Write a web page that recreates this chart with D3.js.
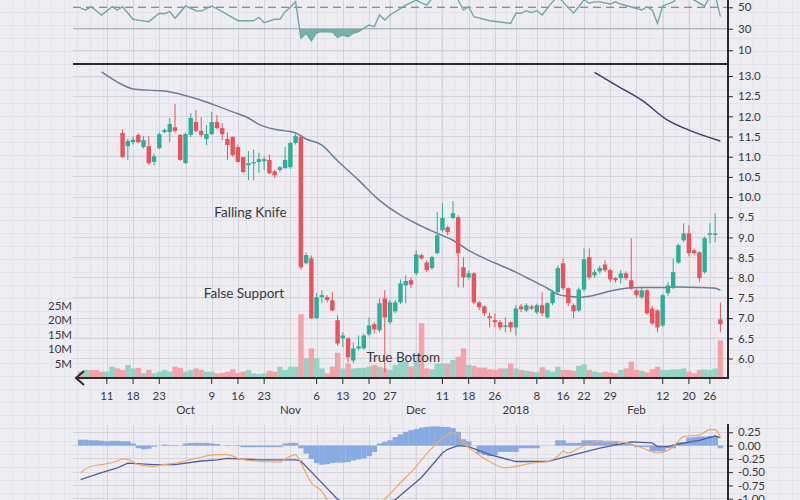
<!DOCTYPE html>
<html><head><meta charset="utf-8">
<script src="https://cdn.jsdelivr.net/npm/d3@7"></script>
<style>
html,body{margin:0;padding:0;background:#eeedf2;}
svg{display:block;font-family:Lato,"Open Sans",sans-serif;}
</style>
</head><body>
<svg id="c" width="800" height="500"></svg>
<script>
// ---------------- DATA ----------------
const startDate = "2017-09-01", endDate = "2018-02-28";
const holidays = ["2017-09-04","2017-11-23","2017-12-25","2018-01-01","2018-01-15","2018-02-19"];
const candleStart = "2017-09-14";
// [open, high, low, close]
const candles = [
[11.59,11.68,10.97,10.99],[11.26,11.44,10.92,11.39],[11.36,11.5,11.3,11.42],[11.54,11.58,11.33,11.36],
[11.24,11.51,11.2,11.41],[11.26,11.51,10.80,10.84],[10.87,11.08,10.79,11.01],[11.21,11.6,11.18,11.56],
[11.61,11.7,11.58,11.66],[11.61,11.96,11.36,11.81],[11.73,12.31,11.59,11.64],[11.54,11.56,10.9,10.92],
[10.84,11.6,10.82,11.56],[11.54,12.08,11.49,11.96],[11.86,12.16,11.61,11.64],[11.64,11.98,11.49,11.54],
[11.44,11.78,11.29,11.56],[11.56,12.11,11.54,11.86],[11.86,12.03,11.68,11.71],[11.71,11.83,11.41,11.56],
[11.44,11.61,10.92,11.29],[11.49,11.5,11.0,11.04],[11.24,11.3,10.85,10.87],[10.99,11.0,10.6,10.62],
[10.79,11.14,10.42,10.84],[10.84,11.18,10.42,10.87],[10.87,11.1,10.6,10.94],[10.89,11.0,10.67,10.94],
[10.92,11.06,10.57,10.59],[10.64,10.67,10.47,10.54],[10.67,10.77,10.62,10.74],[10.72,11.24,10.7,10.92],
[10.74,11.36,10.7,11.34],[11.34,11.61,11.3,11.51],[11.49,11.55,8.2,8.26],[8.36,8.63,8.33,8.56],
[8.48,8.55,6.98,7.0],[7.0,7.62,6.98,7.52],[7.52,7.69,7.37,7.57],[7.52,7.57,7.39,7.45],
[7.44,7.64,7.17,7.19],[6.95,7.07,6.32,6.37],[6.5,6.65,6.28,6.57],[6.5,6.52,5.9,6.03],
[5.95,6.40,5.88,6.25],[6.25,6.57,6.2,6.30],[6.25,6.62,6.22,6.57],[6.6,7.02,6.55,6.82],
[6.85,6.9,6.62,6.72],[6.70,7.49,6.65,7.37],[7.49,7.69,5.66,7.02],[6.9,7.45,6.85,7.39],
[7.17,7.45,7.12,7.39],[7.39,7.96,7.35,7.86],[7.81,8.06,7.37,7.92],[7.94,8.01,7.75,7.83],
[8.11,8.68,8.06,8.58],[8.56,8.6,8.45,8.48],[8.38,8.43,8.14,8.19],[8.24,8.55,8.2,8.51],
[8.61,9.63,8.58,9.05],[9.18,9.85,9.13,9.48],[9.25,9.3,9.05,9.13],[9.48,9.9,9.45,9.60],
[9.50,9.55,7.76,8.61],[8.26,8.51,7.76,8.01],[8.01,8.18,7.96,8.11],[8.11,8.14,7.35,7.39],
[7.39,7.42,7.2,7.27],[7.29,7.32,7.05,7.12],[7.05,7.14,6.77,7.0],[6.95,7.12,6.77,6.90],
[6.9,6.95,6.7,6.77],[6.8,7.02,6.65,6.82],[6.9,6.92,6.65,6.77],[6.77,7.32,6.57,7.24],
[7.29,7.35,7.15,7.22],[7.19,7.37,7.15,7.32],[7.29,7.33,7.2,7.24],[7.14,7.36,7.1,7.32],
[7.32,7.64,7.05,7.12],[7.02,7.4,6.98,7.37],[7.37,7.7,7.32,7.64],[7.64,8.3,7.6,8.24],
[8.36,8.48,7.7,7.74],[7.74,7.76,7.3,7.37],[7.32,7.36,7.0,7.17],[7.19,7.76,7.15,7.71],
[7.71,8.73,7.66,8.46],[8.51,8.73,7.96,8.01],[8.06,8.2,8.0,8.14],[8.16,8.3,8.1,8.24],
[8.33,8.43,8.14,8.19],[8.19,8.22,7.9,7.96],[7.99,8.02,7.88,7.94],[7.99,8.19,7.86,8.11],
[8.11,8.16,7.94,7.99],[7.94,8.98,7.7,7.74],[7.69,7.72,7.5,7.57],[7.52,7.75,7.47,7.69],
[7.69,7.72,7.08,7.12],[7.24,7.3,6.82,6.87],[7.19,7.22,6.65,6.77],[6.82,7.6,6.78,7.57],
[7.62,7.9,7.55,7.81],[7.76,8.48,7.72,8.14],[8.38,8.85,8.34,8.81],[8.93,9.35,8.88,9.10],
[9.10,9.3,8.53,8.61],[8.68,8.72,8.56,8.61],[8.63,8.66,7.9,7.99],[8.14,9.02,8.1,8.98],
[9.08,9.35,8.85,9.10],[9.08,9.60,8.88,9.10],[6.97,7.39,6.65,6.85]
];
// volume in millions, one per session
const volume = [2.2,2.8,2.8,2.8,2.2,2.2,3.9,3.3,
2.8,4.5,3.3,3.5,1.6,2.8,1.6,2.2,2.8,2.2,3.9,3.5,
2.2,2.8,3.3,2.8,2.2,2.2,1.6,1.8,2.2,3.0,
1.8,2.2,2.8,1.6,1.4,1.6,2.5,2.2,3.9,2.8,
3.9,3.9,22,6.8,10.2,6.8,3.3,1.6,3.9,8.7,
3.3,5.0,3.3,3.5,3.5,3.9,4.5,3.9,3.3,2.8,
4.5,5.6,5.6,4.0,5.6,18.9,3.3,3.0,5.0,5.0,
5.0,6.2,7.3,10.2,4.5,4.2,3.6,3.6,3.0,2.8,
3.3,3.3,5.0,3.3,2.8,2.5,2.2,2.0,3.7,2.8,
2.2,3.9,2.8,2.8,2.5,4.2,4.7,2.8,2.2,1.9,
2.2,1.9,1.6,2.8,3.3,5.6,2.8,2.5,1.9,3.0,
3.9,2.8,2.8,3.0,3.0,3.3,2.2,1.6,2.8,3.0,
2.8,3.3,13];
// direction of the sessions before the first candle
const earlyVolumeUp = [false,true,false,false,false,true,true,false];
// [session number, value]
const smaPoints = [[4,13.10],[7,12.85],[10,12.68],[13,12.65],[16,12.63],[19,12.55],[23,12.40],[26,12.26],[29,12.11],[32,11.96],[34,11.80],[37,11.68],[39,11.64],[41,11.59],[43,11.44],[46,11.29],[49,10.9],[53,10.42],[57,9.92],[61,9.55],[65,9.28],[68,9.10],[71,8.93],[74,8.68],[77,8.48],[80,8.31],[83,8.14],[86,7.94],[89,7.74],[91,7.59],[93,7.54],[95,7.52],[98,7.57],[101,7.67],[104,7.74],[107,7.76],[111,7.76],[114,7.77],[118,7.76],[121,7.74],[122,7.69]];
const longMaPoints = [[98,13.09],[102,12.78],[107,12.40],[112,11.90],[116,11.66],[122,11.39]];
const rsiPoints = [[0,49],[1,47.5],[2,50.5],[4,42.8],[6,50.5],[7,47.4],[8,50.5],[10,38.8],[11,38],[13,36.6],[15,44.4],[16,44],[17,45.9],[18,39.7],[20,51.2],[22,46.8],[23,46.5],[25,51.2],[27,45.9],[30,37.5],[33,37.5],[34,40.6],[35,35.6],[37,38.8],[38,38.8],[39,45.9],[40,50],[41,55.2],[42,21.1],[43,25.8],[44,18.9],[45,26.3],[46,27.3],[48,27],[49,22],[50,24.2],[51,22.6],[52,25.8],[53,27.3],[55,33.5],[56,31.9],[57,42.8],[58,38.1],[59,42.8],[61,49],[62,52],[64,56.7],[65,54],[66,52],[67,58],[68,63],[69,66],[70,61],[71,64],[72,56.7],[73,47.4],[74,50.5],[75,41.2],[78,37.5],[82,35],[83,44.4],[84,44.4],[85,46.8],[86,45],[87,47],[88,42.8],[90,55.2],[91,60],[92,55],[94,44.4],[96,57],[97,53.7],[98,55],[99,55],[101,53],[102,55],[103,53],[107,47.4],[108,50.5],[109,47.4],[110,35],[111,51.2],[113,55],[114,60],[115,62],[117,56.7],[119,51],[120,60],[121,62],[122,41.2]];
const macdHist = [0.11,0.11,0.10,0.10,0.09,0.08,0.09,0.09,0.08,0.08,
0.04,-0.05,-0.07,-0.06,-0.02,0.0,0.02,0.01,-0.01,0.0,
0.04,0.05,0.05,0.05,0.05,0.04,0.03,0.0,-0.01,0.0,
-0.01,-0.03,-0.03,-0.03,-0.03,-0.03,-0.03,-0.03,-0.03,0.04,
0.05,0.05,-0.05,-0.15,-0.25,-0.33,-0.36,-0.35,-0.33,-0.32,
-0.32,-0.31,-0.28,-0.26,-0.24,-0.2,-0.12,0.04,0.07,0.1,
0.16,0.21,0.26,0.29,0.31,0.34,0.35,0.36,0.36,0.35,
0.35,0.33,0.26,0.12,0.08,0.0,-0.15,-0.18,-0.2,-0.18,
-0.12,-0.12,-0.12,-0.12,-0.05,-0.05,-0.05,-0.05,0.0,0.0,
0.0,0.1,0.1,0.05,0.05,0.05,0.1,0.1,0.1,0.1,
0.07,0.07,0.07,0.03,0.03,0.03,-0.03,-0.03,-0.03,-0.11,
-0.11,-0.11,-0.05,-0.05,0.06,0.06,0.15,0.16,0.17,0.17,
0.18,0.18,-0.05];
const macdPoints = [[0,-0.51],[2,-0.39],[4,-0.36],[7,-0.29],[8,-0.25],[9,-0.26],[11,-0.36],[14,-0.39],[15,-0.37],[18,-0.33],[22,-0.24],[26,-0.17],[28,-0.17],[30,-0.24],[33,-0.29],[38,-0.31],[39,-0.25],[40,-0.2],[41,-0.17],[42,-0.33],[44,-0.70],[46,-0.86],[47,-1.01],[50,-1.25],[53,-1.3],[56,-1.15],[58,-1.0],[61,-0.70],[64,-0.39],[65,-0.27],[66,-0.15],[67,-0.05],[69,0.14],[71,0.24],[72,0.2],[73,0.05],[75,-0.11],[78,-0.3],[81,-0.42],[83,-0.39],[86,-0.33],[89,-0.3],[91,-0.2],[92,-0.11],[93,-0.14],[95,-0.05],[97,0.03],[99,0.08],[102,0.08],[105,0.03],[108,-0.08],[110,-0.14],[112,-0.09],[113,-0.02],[115,0.17],[118,0.2],[120,0.3],[121,0.3],[122,0.17]];
const signalPoints = [[0,-0.64],[4,-0.51],[7,-0.42],[9,-0.33],[14,-0.36],[18,-0.36],[23,-0.29],[26,-0.27],[28,-0.24],[34,-0.27],[41,-0.27],[42,-0.29],[49,-1.01],[53,-1.2],[57,-1.1],[60,-1.02],[65,-0.6],[69,-0.14],[70,-0.07],[72,0],[74,-0.02],[78,-0.17],[83,-0.3],[89,-0.3],[93,-0.2],[99,-0.05],[105,0.07],[109,0.05],[110,-0.02],[112,-0.02],[114,0.03],[118,0.1],[121,0.18],[122,0.15]];
const tickDates = ["2017-09-11","2017-09-18","2017-09-25","2017-10-09","2017-10-16","2017-10-23","2017-11-06","2017-11-13","2017-11-20","2017-11-27","2017-12-11","2017-12-18","2017-12-26","2018-01-08","2018-01-16","2018-01-22","2018-01-29","2018-02-12","2018-02-20","2018-02-26"];
const tickLabels = ["11","18","23","9","16","23","6","13","20","27","11","18","26","8","16","22","29","12","20","26"];
const monthDates = ["2017-10-02","2017-10-30","2017-12-04","2018-01-02","2018-02-05"];
const monthLabels = ["Oct","Nov","Dec","2018","Feb"];
const priceTicks = [6.0,6.5,7.0,7.5,8.0,8.5,9.0,9.5,10.0,10.5,11.0,11.5,12.0,12.5,13.0];
const volumeTicks = [5,10,15,20,25];
const rsiTicks = [10,30,50];
const macdTicks = [0.25,0,-0.25,-0.5,-0.75,-1.0];
const annotations = [
  {text:"Falling Knife", date:"2017-10-10", price:9.5},
  {text:"False Support", date:"2017-10-06", price:7.5},
  {text:"True Bottom", date:"2017-11-20", price:5.92}
];

// ---------------- LAYOUT / STYLE ----------------
const W = 800, H = 500;
const C = {bg:"#eeedf2", grid:"#d5d3dd", paper:"#e5e3ea", axis:"#2b2b2e", text:"#38383c",
  up:"#2fae97", down:"#e9535b", upVol:"#93d4c4", downVol:"#f3a4aa",
  sma:"#6d7e97", longMa:"#3b4070", rsi:"#6eaaa4", rsiFill:"#5aa9a0",
  hist:"#87aae2", macd:"#f0a866", signal:"#555d9c"};
const left = 73, right = 728;

const parse = d3.timeParse("%Y-%m-%d"), fmt = d3.timeFormat("%Y-%m-%d");
const days = d3.timeDay.range(parse(startDate), d3.timeDay.offset(parse(endDate), 1))
  .filter(d => d.getDay() !== 0 && d.getDay() !== 6 && !holidays.includes(fmt(d)))
  .map(fmt);

const x = d3.scaleBand().domain(days).range([78, 723]);
const bw = x.bandwidth();
const cx = d => x(d) + bw / 2;
const ci = i => cx(days[i]);

const yP = d3.scaleLinear().domain([6, 13]).range([358.5, 76]);
const yV = d3.scaleLinear().domain([0, 25]).range([378, 305.5]);
const yR = d3.scaleLinear().domain([0, 100]).range([61, -46.5]);
const yM = d3.scaleLinear().domain([-1, 0.25]).range([498.7, 432.3]);

const svg = d3.select("#c");
const defs = svg.append("defs");
const pat = defs.append("pattern").attr("id", "paper").attr("patternUnits", "userSpaceOnUse")
  .attr("width", 13).attr("height", 13);
pat.append("path").attr("d", "M12.5 0V13M0 12.5H13").attr("stroke", C.paper).attr("fill", "none");
svg.append("rect").attr("width", W).attr("height", H).attr("fill", C.bg);
svg.append("rect").attr("width", W).attr("height", H).attr("fill", "url(#paper)");

// ---------------- GRID ----------------
const grid = svg.append("g").attr("stroke", C.grid).attr("stroke-width", 1).attr("shape-rendering", "crispEdges");
[...tickDates, ...monthDates].forEach(d => {
  const xx = Math.round(cx(d)) + 0.5;
  grid.append("line").attr("x1", xx).attr("x2", xx).attr("y1", 0).attr("y2", 378);
  grid.append("line").attr("x1", xx).attr("x2", xx).attr("y1", 425).attr("y2", H);
});
priceTicks.forEach(v => grid.append("line").attr("x1", left).attr("x2", right).attr("y1", yP(v)).attr("y2", yP(v)));
macdTicks.forEach(v => grid.append("line").attr("x1", left).attr("x2", right).attr("y1", yM(v)).attr("y2", yM(v)));
grid.append("line").attr("x1", left).attr("x2", right).attr("y1", yR(10)).attr("y2", yR(10));

// ---------------- RSI PANEL ----------------
svg.append("line").attr("x1", left).attr("x2", right).attr("y1", yR(30)).attr("y2", yR(30))
  .attr("stroke", "#a3a2aa").attr("stroke-width", 1.2);
svg.append("line").attr("x1", left).attr("x2", right).attr("y1", yR(50)).attr("y2", yR(50))
  .attr("stroke", "#6d6d74").attr("stroke-width", 1.2).attr("stroke-dasharray", "8,5");
defs.append("clipPath").attr("id", "below30").append("rect")
  .attr("x", 0).attr("y", yR(30)).attr("width", W).attr("height", 80);
svg.append("path").datum(rsiPoints)
  .attr("clip-path", "url(#below30)")
  .attr("fill", C.rsiFill).attr("opacity", 0.85)
  .attr("d", d3.area().x(d => ci(d[0])).y0(yR(30)).y1(d => yR(d[1])));
svg.append("path").datum(rsiPoints).attr("fill", "none").attr("stroke", C.rsi).attr("stroke-width", 1.4)
  .attr("d", d3.line().x(d => ci(d[0])).y(d => yR(d[1])));

// ---------------- VOLUME ----------------
const cStart = days.indexOf(candleStart);
const isUp = i => i >= cStart ? candles[i - cStart][3] >= candles[i - cStart][0] : earlyVolumeUp[i];
svg.append("g").selectAll("rect").data(volume).join("rect")
  .attr("x", (v, i) => x(days[i])).attr("width", bw + 0.2)
  .attr("y", v => yV(v)).attr("height", v => yV(0) - yV(v))
  .attr("fill", (v, i) => isUp(i) ? C.upVol : C.downVol);

// ---------------- MOVING AVERAGES ----------------
svg.append("path").datum(smaPoints).attr("fill", "none").attr("stroke", C.sma).attr("stroke-width", 1.5)
  .attr("d", d3.line().curve(d3.curveMonotoneX).x(d => ci(d[0])).y(d => yP(d[1])));
svg.append("path").datum(longMaPoints).attr("fill", "none").attr("stroke", C.longMa).attr("stroke-width", 1.5)
  .attr("d", d3.line().curve(d3.curveMonotoneX).x(d => ci(d[0])).y(d => yP(d[1])));

// ---------------- CANDLES ----------------
const cg = svg.append("g").selectAll("g").data(candles).join("g");
cg.append("line")
  .attr("x1", (d, i) => ci(i + cStart)).attr("x2", (d, i) => ci(i + cStart))
  .attr("y1", d => yP(d[1])).attr("y2", d => yP(d[2]))
  .attr("stroke", d => d[3] >= d[0] ? C.up : C.down).attr("stroke-width", 1);
cg.append("rect")
  .attr("x", (d, i) => ci(i + cStart) - 2.2).attr("width", 4.4)
  .attr("y", d => yP(Math.max(d[0], d[3])))
  .attr("height", d => Math.max(1.5, Math.abs(yP(d[0]) - yP(d[3]))))
  .attr("fill", d => d[3] >= d[0] ? C.up : C.down);

// ---------------- MACD PANEL ----------------
svg.append("g").selectAll("rect").data(macdHist).join("rect")
  .attr("x", (v, i) => x(days[i])).attr("width", bw + 0.2)
  .attr("y", v => yM(Math.max(0, v))).attr("height", v => Math.abs(yM(v) - yM(0)))
  .attr("fill", C.hist);
svg.append("path").datum(signalPoints).attr("fill", "none").attr("stroke", C.signal).attr("stroke-width", 1.3)
  .attr("d", d3.line().x(d => ci(d[0])).y(d => yM(d[1])));
svg.append("path").datum(macdPoints).attr("fill", "none").attr("stroke", C.macd).attr("stroke-width", 1.2)
  .attr("d", d3.line().curve(d3.curveMonotoneX).x(d => ci(d[0])).y(d => yM(d[1])));

// ---------------- AXES ----------------
function styleAxis(g) {
  g.select(".domain").remove();
  g.selectAll(".tick line").attr("stroke", C.axis);
  g.selectAll(".tick text").attr("fill", C.text).style("font-size", "11.5px").style("font-family", "Lato, sans-serif");
}
svg.append("g").attr("transform", `translate(${right},0)`)
  .call(d3.axisRight(yP).tickValues(priceTicks).tickFormat(d3.format(".1f")).tickSize(5).tickPadding(5))
  .call(styleAxis);
svg.append("g").attr("transform", `translate(${right},0)`)
  .call(d3.axisRight(yR).tickValues(rsiTicks).tickSize(5).tickPadding(5))
  .call(styleAxis);
svg.append("g").attr("transform", `translate(${right},0)`)
  .call(d3.axisRight(yM).tickValues(macdTicks).tickFormat(d => d.toFixed(2)).tickSize(5).tickPadding(5))
  .call(styleAxis);
svg.append("g").attr("transform", `translate(${left - 1},0)`)
  .call(d3.axisLeft(yV).tickValues(volumeTicks).tickFormat(d => d + "M").tickSize(0).tickPadding(0))
  .call(styleAxis);

// x axis
const xa = svg.append("g");
tickDates.forEach((d, i) => {
  const xx = cx(d);
  xa.append("line").attr("x1", xx).attr("x2", xx).attr("y1", 379).attr("y2", 384).attr("stroke", C.axis);
  xa.append("text").attr("x", xx).attr("y", 400).attr("text-anchor", "middle")
    .attr("fill", C.text).style("font-size", "11.5px").text(tickLabels[i]);
});
monthDates.forEach((d, i) => {
  xa.append("text").attr("x", cx(d)).attr("y", 414).attr("text-anchor", "middle")
    .attr("fill", C.text).style("font-size", "11.5px").text(monthLabels[i]);
});

// borders
const b = svg.append("g").attr("stroke", C.axis).attr("fill", "none");
b.append("line").attr("x1", left).attr("x2", right + 1).attr("y1", 64).attr("y2", 64).attr("stroke-width", 2);
b.append("line").attr("x1", right).attr("x2", right).attr("y1", 0).attr("y2", 379).attr("stroke-width", 2);
b.append("line").attr("x1", 76).attr("x2", right + 1).attr("y1", 378).attr("y2", 378).attr("stroke-width", 2);
b.append("path").attr("d", "M84,371L76,378L84,385").attr("stroke-width", 2);
b.append("line").attr("x1", right).attr("x2", right).attr("y1", 424).attr("y2", H).attr("stroke-width", 2);

// annotations
svg.append("g").selectAll("text").data(annotations).join("text")
  .attr("x", d => x(d.date)).attr("y", d => yP(d.price))
  .attr("fill", C.text).style("font-size", "13.5px").text(d => d.text);
</script>
</body></html>
